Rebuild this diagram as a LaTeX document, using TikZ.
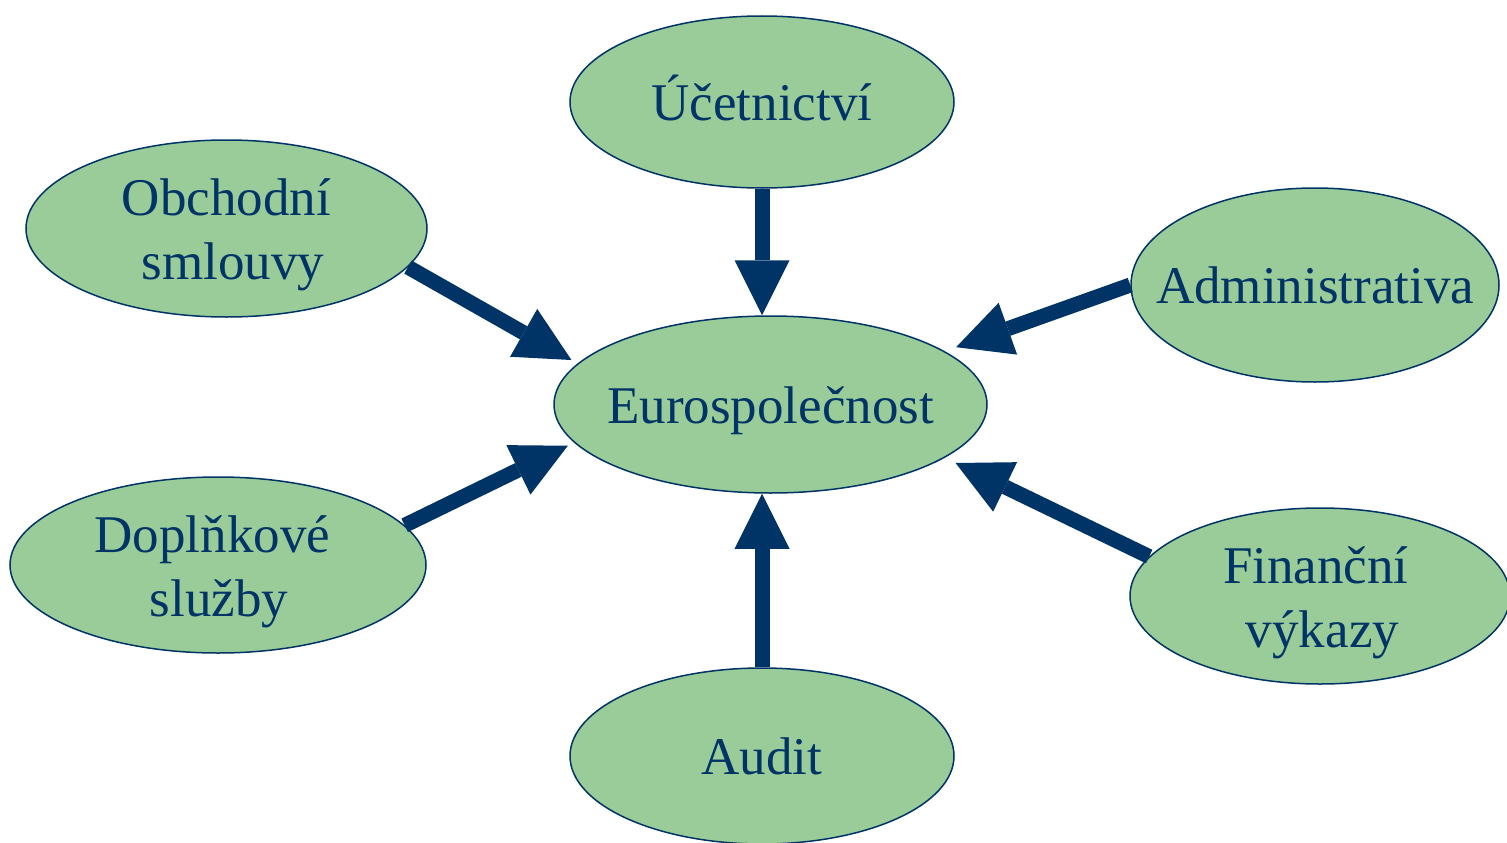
\documentclass[tikz,border=0pt]{standalone}
\usepackage{fontspec}
\setmainfont{Liberation Serif}
\usetikzlibrary{shapes.geometric,arrows.meta}
\definecolor{navy}{HTML}{003366}
\definecolor{leaf}{HTML}{99CC99}
\newcommand\onel[1]{\makebox[0pt]{#1}}
\newcommand\twol[3][0pt]{\makebox[0pt]{\hspace*{#1}\begin{tabular}[t]{@{}c@{}}#2\kern0.25em\\#3\end{tabular}}}
\begin{document}
\begin{tikzpicture}[x=1pt,y=-1pt,
  bub/.style={ellipse,draw=navy,line width=1.5pt,fill=leaf,text=navy,inner sep=0pt,
    font=\fontsize{53}{64}\selectfont},
  one/.style={text height=37pt,text depth=0pt},
  two/.style={text height=37pt,text depth=63pt},
  arr/.style={draw=navy,line width=15pt,-{Triangle[length=55pt,width=55pt,line width=0pt]}}]
\useasboundingbox (0,0) rectangle (1507,843);

\node[bub,one,minimum width=384pt,minimum height=172pt] (uc) at (762,102) {\onel{Účetnictví}};
\node[bub,two,minimum width=401pt,minimum height=177pt] (obch) at (226.5,228.5) {\twol[13pt]{Obchodní}{smlouvy}};
\node[bub,one,minimum width=368pt,minimum height=194pt] (adm) at (1315,285) {\onel{Administrativa}};
\node[bub,one,minimum width=433pt,minimum height=177pt] (euro) at (770.5,404.5) {\onel{Eurospolečnost}};
\node[bub,two,minimum width=416pt,minimum height=176pt] (dopl) at (218,565) {\twol[2pt]{Doplňkové}{služby}};
\node[bub,two,minimum width=380pt,minimum height=176pt] (fin) at (1320,596) {\twol[5pt]{Finanční}{výkazy}};
\node[bub,one,minimum width=384pt,minimum height=176pt] (au) at (762,756) {\onel{Audit}};

\draw[arr] (uc.south) -- (uc.south |- euro.north);
\draw[arr,shorten >=7pt] (obch.-12) -- (euro.168.6);
\draw[arr,shorten >=12pt] (adm.180) -- (euro.17);
\draw[arr,shorten >=7pt] (dopl.12) -- (euro.191.4);
\draw[arr,shorten >=12pt] (fin.167) -- (euro.-17.3);
\draw[arr] (au.north) -- (au.north |- euro.south);
\end{tikzpicture}
\end{document}
